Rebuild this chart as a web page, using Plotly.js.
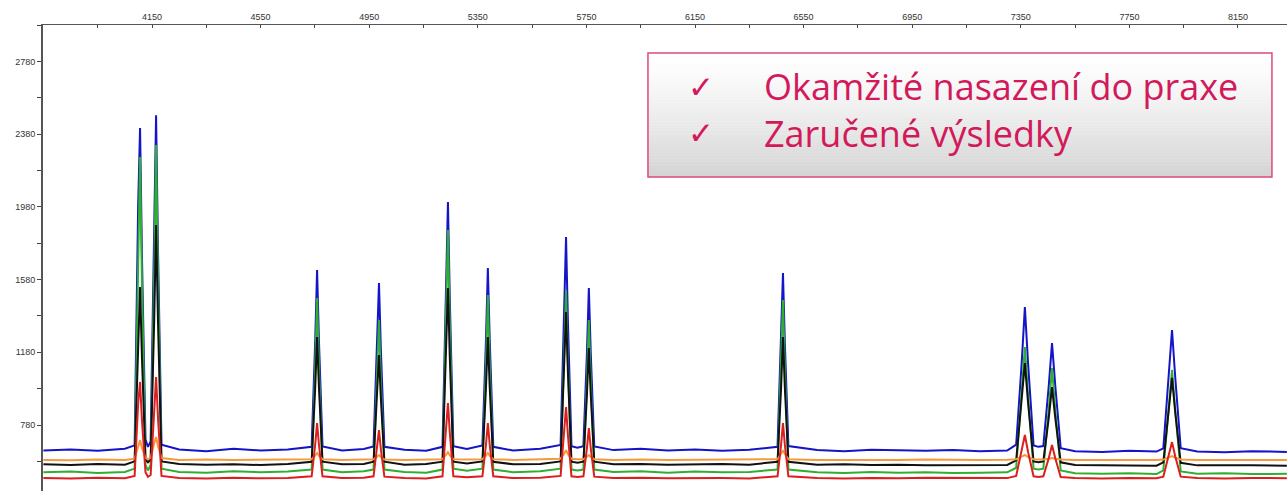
<!DOCTYPE html>
<html>
<head>
<meta charset="utf-8">
<script src="https://cdn.plot.ly/plotly-3.0.1.min.js"></script>
<style>html,body{margin:0;padding:0;background:#fff;}#chart{width:1287px;height:491px;}</style>
</head>
<body>
<div id="chart"></div>
<script>
// Shared x positions (scan number) of the vertices
const xs = [
3750,3850,3950,4050,
4086,4099,4106,4113,4126,
4135,
4145,4158,4165,4172,4185,
4250,4350,4450,4550,4650,
4738,4751,4758,4765,4778,
4850,4930,
4966,4979,4986,4993,5006,
5080,5160,
5220,5233,5240,5247,5260,
5310,
5367,5380,5387,5394,5407,
5480,5580,
5655,5668,5675,5682,5695,
5717,
5739,5752,5759,5766,5779,
5850,5950,6050,6150,6250,6350,
6454,6467,6474,6481,6494,
6600,6700,6800,6900,7000,7100,7200,7300,
7333,7353,7365,7377,7397,
7415,
7433,7453,7465,7477,7497,
7550,7650,7750,7850,
7875,7895,7907,7919,7939,
8000,8100,8200,8330];

const blueY = [
640,646,638,650,
668,1990,2414,1705,700,
660,
690,1748,2485,1748,672,
645,636,650,640,646,
660,1237,1633,1237,662,
640,648,
662,1193,1561,1193,660,
644,638,
660,1461,2007,1461,664,
648,
668,1243,1644,1243,660,
640,650,
670,1345,1814,1345,664,
655,
664,1177,1534,1177,662,
642,650,640,646,638,644,
660,1226,1616,1226,664,
642,636,644,640,638,642,636,640,
672,1114,1429,1114,668,
660,
664,995,1231,995,652,
636,632,638,634,
652,1039,1303,1039,652,
634,630,636,632];

const greenY = [
520,524,516,522,
540,1800,2254,1561,560,
530,
560,1600,2320,1600,540,
522,518,526,520,524,
535,1096,1479,1096,535,
520,526,
535,1023,1358,1023,535,
522,518,
535,1320,1853,1320,540,
528,
540,1105,1495,1105,535,
520,526,
540,1122,1523,1122,535,
530,
535,1023,1358,1023,535,
522,526,518,524,520,522,
535,1089,1468,1089,535,
520,516,522,518,520,516,518,520,
545,934,1209,934,540,
535,
540,865,1094,865,530,
515,512,514,510,
530,858,1083,858,525,
512,514,510,512];

const blackY = [
564,560,566,562,
580,1300,1539,1149,590,
575,
590,1354,1880,1354,580,
566,562,564,560,566,
578,984,1264,984,578,
564,566,
578,925,1165,925,578,
562,566,
578,1146,1534,1146,578,
568,
580,984,1264,984,578,
564,566,
580,1067,1402,1067,578,
572,
578,948,1204,948,578,
564,566,562,564,566,562,
578,984,1264,984,578,
562,564,560,562,558,560,562,560,
585,899,1121,899,580,
575,
580,819,989,819,575,
560,558,560,556,
575,849,1039,849,572,
558,556,558,556];

const orangeY = [
588,586,590,587,
595,660,697,653,600,
592,
600,680,714,663,598,
588,590,587,589,588,
592,612,626,610,592,
588,590,
592,606,615,604,590,
588,589,
592,615,631,613,592,
590,
592,612,626,610,592,
588,590,
595,622,642,620,594,
592,
592,606,615,604,592,
588,590,587,589,588,590,
592,622,642,620,592,
588,587,589,588,590,588,587,589,
592,606,615,604,592,
590,
590,595,598,594,590,
588,587,589,588,
590,602,609,600,590,
588,587,589,588];

const redY = [
488,486,490,487,
500,900,1017,805,520,
495,
505,822,1044,822,500,
488,486,490,487,489,
498,670,791,670,498,
488,490,
498,646,752,646,496,
488,486,
498,736,901,736,498,
492,
498,670,791,670,498,
488,490,
500,723,879,723,498,
494,
498,653,763,653,496,
488,490,487,489,488,486,
498,670,791,670,498,
488,486,489,487,490,488,486,488,
500,630,725,630,498,
494,
498,597,670,597,494,
488,486,489,487,
496,607,686,607,496,
488,486,489,487];

const xTickVals = [4150,4550,4950,5350,5750,6150,6550,6950,7350,7750,8150];
const yTickVals = [780,1180,1580,1980,2380,2780];

const seriesNames = ["blue","green","black","orange","red"];
const seriesY = [blueY, greenY, blackY, orangeY, redY];
const seriesColors = ["#1414c8","#2fae2f","#111111","#f59a3c","#dc1e1e"];

const boxLines = ["Okamžité nasazení do praxe","Zaručené výsledky"];
const checkMark = "✓";

const traces = seriesY.map((ys, i) => ({
  type: "scatter", mode: "lines", name: seriesNames[i],
  x: xs, y: ys,
  line: {color: seriesColors[i], width: 2},
  hoverinfo: "skip"
}));

// gradient box (paper coords of plot area)
const bx0 = 0.4863, bx1 = 0.9879, by0 = 0.6738, by1 = 0.9399;
const shapes = [];
const N = 40;
for (let k = 0; k < N; k++) {
  const t = (k + 0.5) / N; // 0 top -> 1 bottom
  const g = Math.round(255 - 44 * Math.pow(t, 1.3));
  shapes.push({type: "rect", xref: "paper", yref: "paper",
    x0: bx0, x1: bx1,
    y1: by1 - (by1 - by0) * k / N, y0: by1 - (by1 - by0) * (k + 1) / N - 0.0005,
    fillcolor: `rgb(${g},${g},${g})`, line: {width: 0}, layer: "above"});
}
shapes.push({type: "rect", xref: "paper", yref: "paper", x0: bx0, x1: bx1, y0: by0, y1: by1,
  fillcolor: "rgba(0,0,0,0)", line: {color: "#dc4a7a", width: 1.5}, layer: "above"});

const textColor = "#d3195a";
const lineYs = [0.867, 0.768];
const annotations = [];
boxLines.forEach((txt, i) => {
  annotations.push({xref: "paper", yref: "paper", x: 0.5165, y: lineYs[i], xanchor: "left", yanchor: "middle",
    text: checkMark, showarrow: false, font: {family: "DejaVu Sans", size: 31, color: textColor}});
  annotations.push({xref: "paper", yref: "paper", x: 0.578, y: lineYs[i], xanchor: "left", yanchor: "middle",
    text: txt, showarrow: false, font: {family: "Open Sans", size: 36, color: textColor}});
});

const tickFont = {family: "Liberation Sans, Arial, sans-serif", size: 9, color: "#333"};
const layout = {
  width: 1287, height: 491,
  margin: {l: 43, r: 0, t: 25, b: 0, pad: 0},
  paper_bgcolor: "#fff", plot_bgcolor: "#fff",
  showlegend: false,
  xaxis: {
    side: "top", range: [3748.5, 8330.5], tickmode: "array", tickvals: xTickVals,
    ticks: "inside", ticklen: 3, tickwidth: 1, tickcolor: "#444",
    showline: true, linecolor: "#555", linewidth: 1,
    showgrid: false, zeroline: false, tickfont: tickFont,
    minor: {tick0: 3750, dtick: 200, ticks: "inside", ticklen: 3, tickcolor: "#444", showgrid: false}
  },
  yaxis: {
    range: [417, 2981], tickmode: "array", tickvals: yTickVals,
    ticks: "outside", ticklen: 4, tickwidth: 1, tickcolor: "#444",
    showline: true, linecolor: "#555", linewidth: 2,
    showgrid: false, zeroline: false, tickfont: tickFont,
    minor: {tick0: 580, dtick: 200, ticks: "outside", ticklen: 4, tickcolor: "#444", showgrid: false}
  },
  shapes: shapes,
  annotations: annotations
};

Plotly.newPlot("chart", traces, layout, {displayModeBar: false, staticPlot: true});
</script>
</body>
</html>
